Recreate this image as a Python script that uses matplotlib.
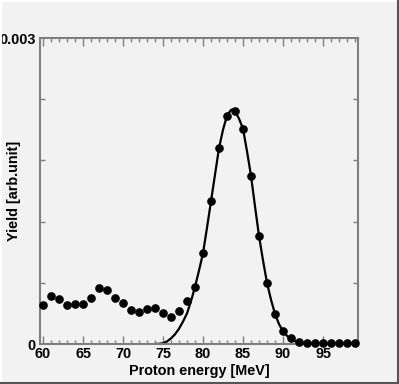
import matplotlib
matplotlib.use("Agg")
import matplotlib.pyplot as plt
from matplotlib.lines import Line2D
from matplotlib.ticker import MultipleLocator, FixedLocator

# measured yield, one point per MeV
energy = list(range(60, 100))
yield_data = [
    3.82e-4, 4.74e-4, 4.44e-4, 3.79e-4, 3.89e-4, 3.89e-4, 4.48e-4, 5.49e-4,
    5.26e-4, 4.54e-4, 3.99e-4, 3.30e-4, 3.11e-4, 3.40e-4, 3.50e-4, 3.01e-4,
    2.68e-4, 3.27e-4, 4.22e-4, 5.62e-4, 8.90e-4, 1.40e-3, 1.92e-3, 2.24e-3,
    2.28e-3, 2.11e-3, 1.65e-3, 1.06e-3, 6.00e-4, 2.94e-4, 1.27e-4, 6.2e-5,
    2.0e-5, 5e-6, 5e-6, 5e-6, 5e-6, 5e-6, 5e-6, 5e-6,
]

# fit curve
fit_energy = [
    74, 74.5, 75, 75.5, 76, 76.5, 77, 77.5, 78, 78.5, 79, 79.5, 80, 80.5,
    81, 81.5, 82, 82.5, 83, 83.5, 83.7, 84, 84.5, 85, 85.5, 86, 86.5, 87,
    87.5, 88, 88.5, 89, 89.5, 90, 90.5, 91, 91.5, 92, 92.5, 93, 94,
]
fit_yield = [
    0.0, 2e-6, 8e-6, 2.5e-5, 5.5e-5, 9.5e-5, 1.5e-4, 2.2e-4, 3.0e-4, 4.2e-4,
    5.6e-4, 7.2e-4, 8.9e-4, 1.14e-3, 1.40e-3, 1.66e-3, 1.92e-3, 2.10e-3,
    2.24e-3, 2.295e-3, 2.30e-3, 2.28e-3, 2.21e-3, 2.11e-3, 1.89e-3, 1.65e-3,
    1.35e-3, 1.06e-3, 8.2e-4, 6.0e-4, 4.35e-4, 2.95e-4, 1.95e-4, 1.25e-4,
    8e-5, 5e-5, 2.8e-5, 1.5e-5, 7e-6, 3e-6, 0.0,
]

xticks = [60, 65, 70, 75, 80, 85, 90, 95]
yticks = [0, 0.003]
ytick_labels = ["0", "0.003"]


def main():
    plt.rcParams["font.family"] = ["Liberation Sans", "DejaVu Sans"]
    plt.rcParams["font.weight"] = "bold"

    bg = "#f2f2f2"
    frame = "#7f7f7f"
    fig = plt.figure(figsize=(3.99, 3.84), dpi=100, facecolor=bg)
    ax = fig.add_axes([40 / 399, 40 / 384, 318 / 399, 306 / 384])
    ax.set_facecolor(bg)

    ax.plot(fit_energy, fit_yield, color="black", lw=1.6, zorder=2)
    ax.plot(energy, yield_data, "o", color="black", ms=5.2, zorder=3,
            clip_on=False)

    ax.set_xlim(59.625, 99.375)
    ax.set_ylim(0, 0.003)

    ax.xaxis.set_major_locator(FixedLocator(xticks))
    ax.xaxis.set_minor_locator(MultipleLocator(1))
    ax.yaxis.set_major_locator(FixedLocator(yticks))
    ax.yaxis.set_minor_locator(MultipleLocator(0.0006))
    ax.set_yticklabels(ytick_labels)

    for s in ax.spines.values():
        s.set_color(frame)
        s.set_linewidth(1.5)

    ax.tick_params(which="both", direction="in", top=True, right=True,
                   color=frame, width=1.0, labelsize=10.4)
    ax.tick_params(axis="x", which="major", length=6, pad=2)
    ax.tick_params(axis="x", which="minor", length=3)
    ax.tick_params(axis="y", which="major", length=0, pad=3)
    ax.tick_params(axis="y", which="minor", length=3.5)
    for lab in ax.get_xticklabels() + ax.get_yticklabels():
        lab.set_fontweight("bold")

    ax.set_xlabel("Proton energy [MeV]", fontsize=10.4, fontweight="bold",
                  labelpad=2)
    fig.text(14 / 399, (384 - 191) / 384, "Yield [arb.unit]", rotation=90,
             ha="center", va="center", fontsize=10.4, fontweight="bold")

    # canvas bevel
    fig.add_artist(Line2D([0.5 / 399, 0.5 / 399], [0, 1], color="white",
                          lw=1.5, transform=fig.transFigure))
    fig.add_artist(Line2D([0, 1], [1 - 0.5 / 384, 1 - 0.5 / 384],
                          color="white", lw=1.5, transform=fig.transFigure))
    fig.add_artist(Line2D([1 - 0.8 / 399, 1 - 0.8 / 399], [0, 1],
                          color="#555555", lw=1.5, transform=fig.transFigure))
    fig.add_artist(Line2D([0, 1], [0.8 / 384, 0.8 / 384], color="#555555",
                          lw=1.5, transform=fig.transFigure))

    fig.savefig("out.png", dpi=100, facecolor=bg)


if __name__ == "__main__":
    main()
